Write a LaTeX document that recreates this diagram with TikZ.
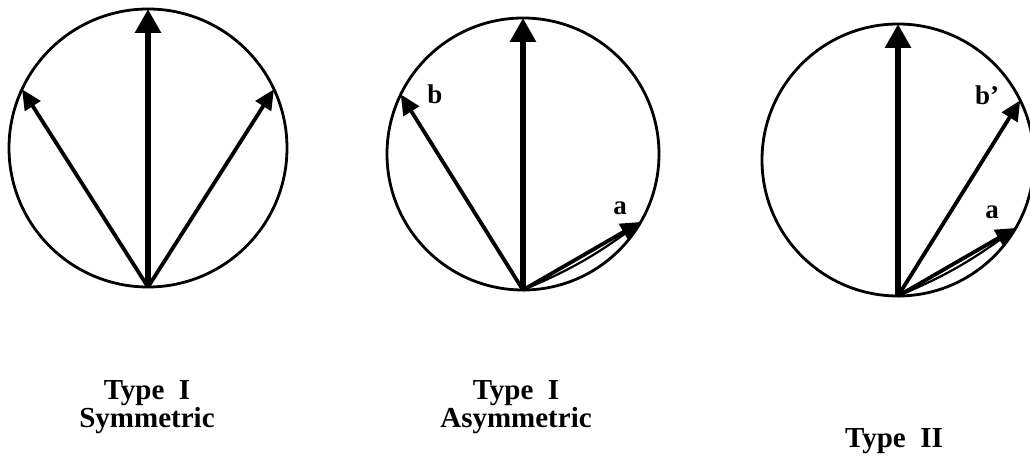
\documentclass[tikz,border=0pt]{standalone}
\usepackage{fontspec}
\setmainfont{Liberation Serif}
\usetikzlibrary{arrows.meta,calc}
\begin{document}
\begin{tikzpicture}[x=1pt,y=1pt,
  ring/.style={line width=2.8pt},
  mainvec/.style={line width=6pt,-{Triangle[length=24pt,width=25pt]}},
  sidevec/.style={line width=3.8pt,-{Triangle[length=20pt,width=18pt]}},
  chord/.style={line width=2.2pt},
  lbl/.style={font=\fontsize{27}{30}\selectfont\bfseries, inner sep=0pt, anchor=base},
  captxt/.style={font=\fontsize{29}{28}\selectfont\bfseries, align=center, inner sep=0pt, anchor=base}]
\useasboundingbox (0,0) rectangle (1030,464);
% ---- circle 1 ----
\coordinate (c1) at (148,316);
\draw[ring] (c1) circle (139);
\coordinate (o1) at ($(c1)+(0,-139)$);
\coordinate (t1) at ($(c1)+(90:139)$);
\coordinate (l1) at ($(c1)+(155:139)$);
\coordinate (r1) at ($(c1)+(25:139)$);
\draw[sidevec] (o1) -- (l1);
\draw[sidevec] (o1) -- (r1);
\draw[mainvec] (o1) -- (t1);
% ---- circle 2 ----
\coordinate (c2) at (523,310);
\draw[ring] (c2) circle (136);
\coordinate (o2) at ($(c2)+(0,-136)$);
\coordinate (t2) at ($(c2)+(90:136)$);
\coordinate (b2) at ($(c2)+(154:136)$);
\coordinate (a2) at ($(c2)+(-30:136)$);
\draw[chord] (o2) to[bend right=7] (a2);
\draw[sidevec] (o2) -- (b2);
\draw[sidevec] (o2) -- (a2);
\draw[mainvec] (o2) -- (t2);
\node[lbl] (lb2) at (435,360) {b};
\node[lbl] (la2) at (620,249) {a};
% ---- circle 3 ----
\coordinate (c3) at (898,304);
\draw[ring] (c3) circle (136);
\coordinate (o3) at ($(c3)+(0,-136)$);
\coordinate (t3) at ($(c3)+(90:136)$);
\coordinate (b3) at ($(c3)+(26:136)$);
\coordinate (a3) at ($(c3)+(-30:136)$);
\draw[chord] (o3) to[bend right=7] (a3);
\draw[sidevec] (o3) -- (b3);
\draw[sidevec] (o3) -- (a3);
\draw[mainvec] (o3) -- (t3);
\node[lbl] (lb3) at (987,359) {b'};
\node[lbl] (la3) at (992,245) {a};
% ---- captions ----
\node[captxt] (cap1) at (147,37) {Type\ \ I\\Symmetric};
\node[captxt] (cap2) at (516,37) {Type\ \ I\\Asymmetric};
\node[captxt] (cap3) at (894,17) {Type\ \ II};
\end{tikzpicture}
\end{document}
